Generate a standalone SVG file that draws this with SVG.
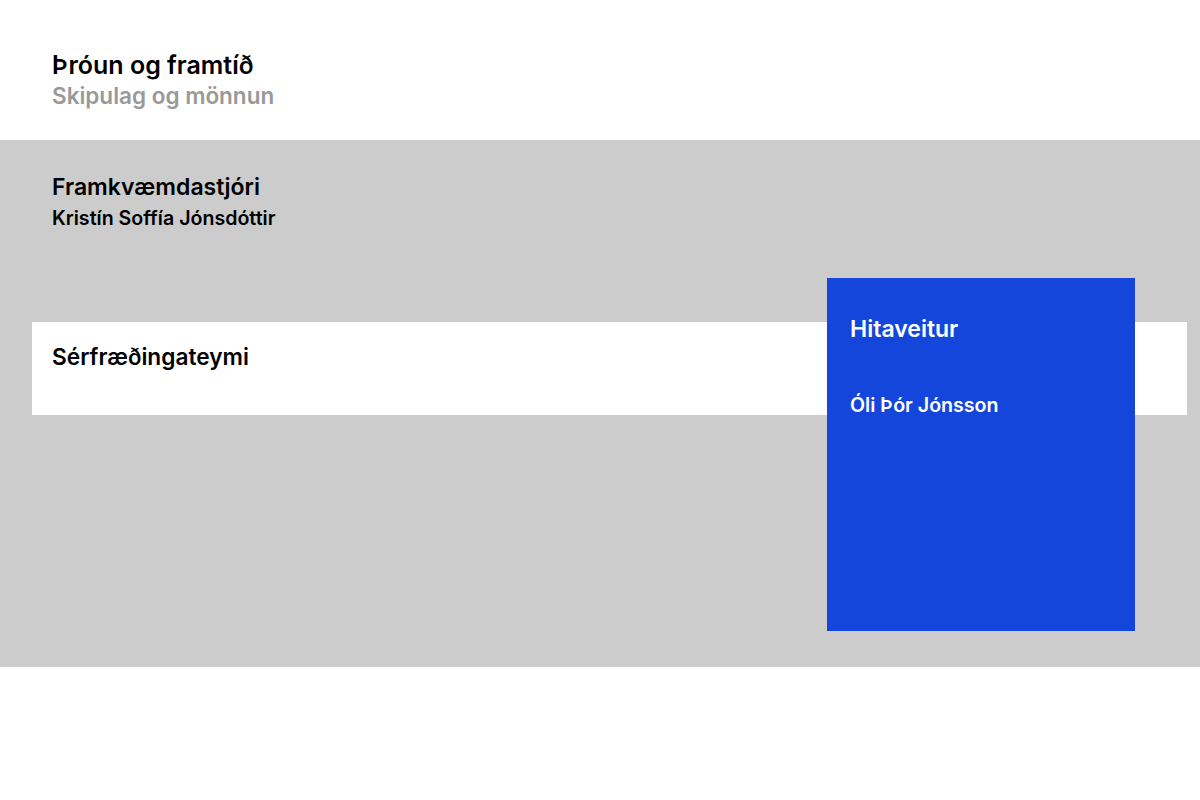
<svg xmlns="http://www.w3.org/2000/svg" width="1200" height="800" viewBox="0 0 1200 800">
<style>
text{font-family:Inter,"Liberation Sans",sans-serif;font-weight:600}
.h{font-size:23px}
.s{font-size:19.6px}
.w{fill:#ffffff}
.k{fill:#000000}
</style>
<rect width="1200" height="800" fill="#ffffff"/>
<g id="header">
<text class="k" x="52" y="74" font-size="25">Þróun og framtíð</text>
<text x="52" y="104" font-size="22.5" fill="#999999">Skipulag og mönnun</text>
</g>
<g id="band">
<rect x="0" y="140" width="1200" height="527" fill="#cccccc"/>
<text class="h k" x="52" y="195">Framkvæmdastjóri</text>
<text class="s k" x="52" y="225">Kristín Soffía Jónsdóttir</text>
</g>
<g id="serfraedingateymi">
<rect x="32" y="322" width="1155" height="93" fill="#ffffff"/>
<text class="k" x="52" y="365" font-size="22.7">Sérfræðingateymi</text>
</g>
<g id="hitaveitur">
<rect x="827" y="278" width="308" height="353" fill="#1546db"/>
<text class="h w" x="850" y="337">Hitaveitur</text>
<text class="s w" x="850" y="412">Óli Þór Jónsson</text>
</g>
<g id="connectors"/>
</svg>
